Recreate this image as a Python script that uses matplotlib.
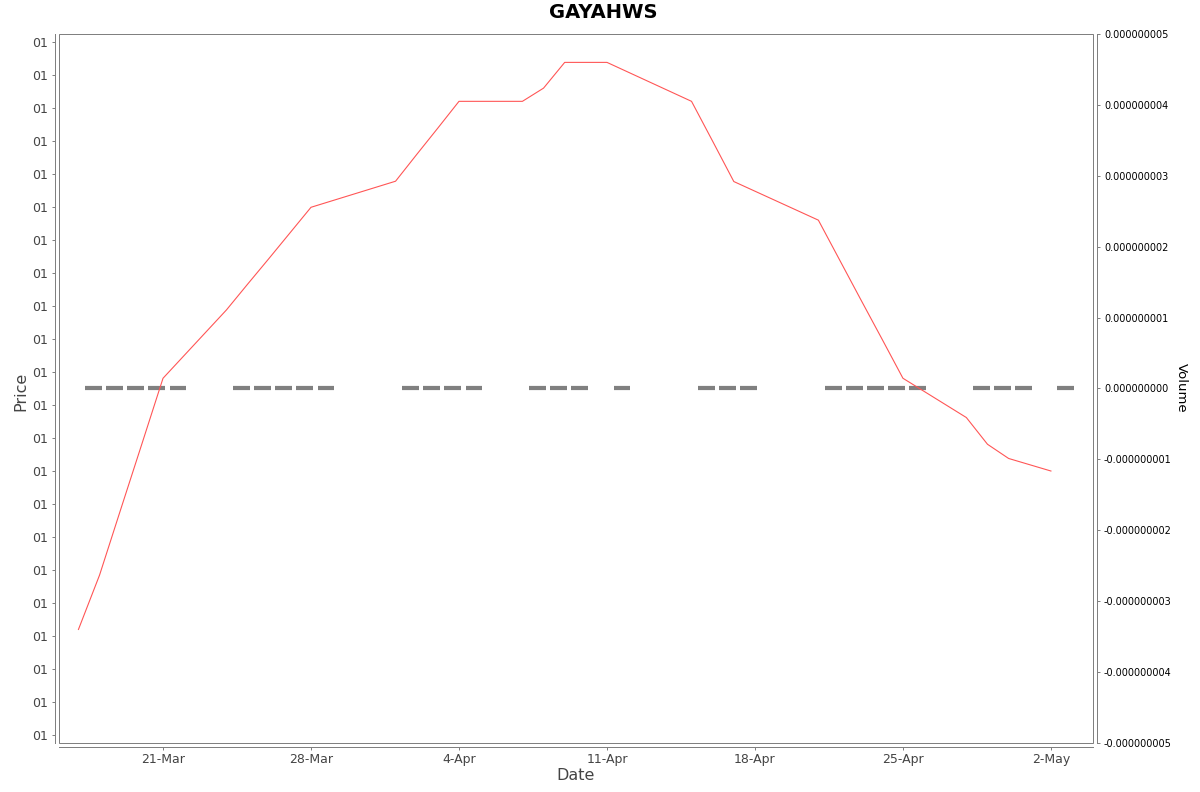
import datetime as dt
import matplotlib
matplotlib.use("Agg")
import matplotlib.pyplot as plt
import matplotlib.dates as mdates
from matplotlib.patches import Rectangle
from matplotlib.ticker import FuncFormatter, FixedLocator

# ---- data ----
trade_dates = [
    "2025-03-17", "2025-03-18", "2025-03-19", "2025-03-20", "2025-03-21",
    "2025-03-24", "2025-03-25", "2025-03-26", "2025-03-27", "2025-03-28",
    "2025-04-01", "2025-04-02", "2025-04-03", "2025-04-04",
    "2025-04-07", "2025-04-08", "2025-04-09", "2025-04-11",
    "2025-04-15", "2025-04-16", "2025-04-17",
    "2025-04-21", "2025-04-22", "2025-04-23", "2025-04-24", "2025-04-25",
    "2025-04-28", "2025-04-29", "2025-04-30", "2025-05-02",
]
price = [3.20, 4.85, 6.84, 8.82, 10.81, 12.88, 13.66, 14.43, 15.21, 15.99,
         16.78, 17.59, 18.39, 19.20, 19.20, 19.60, 20.38, 20.38,
         19.20, 17.99, 16.77, 15.60, 14.40, 13.20, 12.01, 10.81,
         9.62, 8.81, 8.38, 8.00]
volume = [0.0] * len(trade_dates)
price_ticks = list(range(0, 22))
price_tick_label = "01"
volume_ticks = [-5e-9, -4e-9, -3e-9, -2e-9, -1e-9, 0.0, 1e-9, 2e-9, 3e-9, 4e-9, 5e-9]
date_ticks = ["2025-03-21", "2025-03-28", "2025-04-04", "2025-04-11",
              "2025-04-18", "2025-04-25", "2025-05-02"]
title = "GAYAHWS"

# ---- figure ----
W, H = 1200, 792
fig = plt.figure(figsize=(12, 7.92), dpi=100)
px = 72 / 100.0  # points per pixel

def fx(x):
    return x / W

def fy(y):
    return 1 - y / H

box_l, box_r, box_t, box_b = 59, 1093, 34, 743
ax = fig.add_axes([fx(box_l), fy(box_b), (box_r - box_l) / W, (box_b - box_t) / H])
axv = ax.twinx()
ax.set_zorder(axv.get_zorder() + 1)
ax.patch.set_visible(False)

xd = [mdates.date2num(dt.datetime.strptime(d, "%Y-%m-%d")) for d in trade_dates]

# volume (zero-height bars drawn as thick dashes)
axv.hlines(volume, [x + 0.31 for x in xd], [x + 1.10 for x in xd],
           colors="#808080", linewidth=4.2 * px, capstyle="butt")

# price line
ax.plot(xd, price, color="#FF5555", linewidth=1.1 * px)

# limits
ref = mdates.date2num(dt.datetime(2025, 3, 21))
ax.set_xlim(ref - 4.92, ref + 43.99)
ax.set_ylim(-0.24, 21.24)
axv.set_ylim(-5.0e-9, 5.0e-9)

# x ticks
ax.xaxis.set_major_locator(FixedLocator(
    [mdates.date2num(dt.datetime.strptime(d, "%Y-%m-%d")) for d in date_ticks]))
ax.xaxis.set_major_formatter(FuncFormatter(
    lambda v, p: (lambda d: f"{d.day}-{d.strftime('%b')}")(mdates.num2date(v))))
ax.set_yticks(price_ticks)
ax.yaxis.set_major_formatter(FuncFormatter(lambda v, p: price_tick_label))
axv.set_yticks(volume_ticks)
axv.yaxis.set_major_formatter(FuncFormatter(lambda v, p: f"{v:.9f}" if abs(v) > 1e-15 else "0.000000000"))

gray = "#808080"
for s in ["top", "right"]:
    ax.spines[s].set_visible(False)
for s in ["top", "left", "bottom"]:
    axv.spines[s].set_visible(False)
ax.spines["left"].set_position(("outward", 4 * px))
ax.spines["bottom"].set_position(("outward", 4 * px))
axv.spines["right"].set_position(("outward", 4 * px))
for sp in [ax.spines["left"], ax.spines["bottom"], axv.spines["right"]]:
    sp.set_color(gray)
    sp.set_linewidth(1.0 * px)

ax.add_patch(Rectangle((0, 0), 1, 1, transform=ax.transAxes, fill=False,
                       edgecolor=gray, linewidth=1.0 * px, clip_on=False, zorder=5))

ax.tick_params(axis="y", length=3 * px, width=1 * px, color=gray, labelsize=9,
               labelcolor="#444444", pad=4 * px)
ax.tick_params(axis="x", length=3 * px, width=1 * px, color=gray, labelsize=9,
               labelcolor="#444444", pad=3 * px)
axv.tick_params(axis="y", length=3 * px, width=1 * px, color=gray, labelsize=7,
                labelcolor="black", pad=4 * px)

# labels
fig.text(fx(603), fy(13), title, ha="center", va="center", fontsize=14,
         fontweight="bold", color="black")
fig.text(fx(21), fy(391), "Price", ha="center", va="center", rotation=90,
         fontsize=11.5, color="#444444")
fig.text(fx(576), fy(776), "Date", ha="center", va="center", fontsize=11.5,
         color="#444444")
fig.text(fx(1181), fy(388), "Volume", ha="center", va="center", rotation=270,
         fontsize=9.5, color="black")

fig.savefig("out.png", dpi=100, facecolor="white")
